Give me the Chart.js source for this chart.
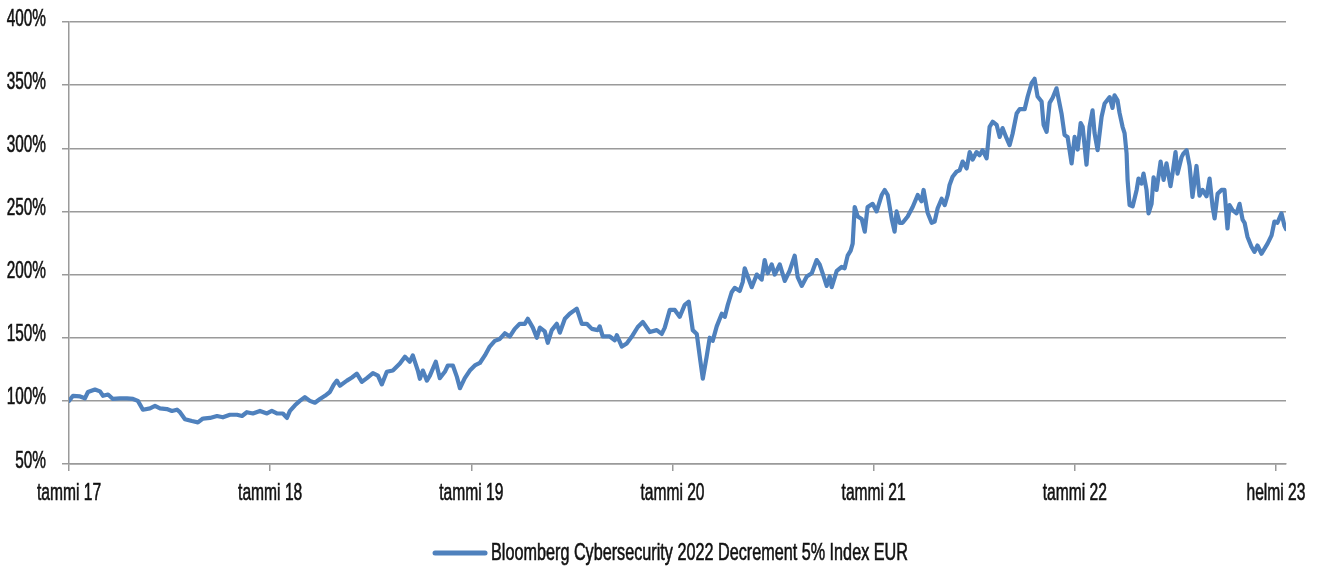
<!DOCTYPE html>
<html>
<head>
<meta charset="utf-8">
<script src="https://cdn.jsdelivr.net/npm/chart.js@4/dist/chart.umd.min.js"></script>
<style>
  html, body { margin: 0; padding: 0; background: #fff; }
  #wrap { width: 1322px; height: 570px; position: relative; }
</style>
</head>
<body>
<div id="wrap"><canvas id="chart"></canvas></div>
<script>
// months since January 2017
const months = [
  0, 0.24, 0.66, 0.95, 1.13, 1.55, 1.85, 2.03, 2.33, 2.62, 3.04, 3.46, 3.82, 4.11, 4.41, 4.83,
  5.13, 5.43, 5.84, 6.14, 6.44, 6.62, 6.92, 7.33, 7.69, 7.99, 8.41, 8.83, 9.18, 9.60, 10.02, 10.32,
  10.61, 10.97, 11.39, 11.81, 12.10, 12.40, 12.76, 13.00, 13.18, 13.48, 13.77, 14.07, 14.37, 14.67, 14.97, 15.27,
  15.56, 15.80, 15.98, 16.16, 16.58, 16.88, 17.17, 17.47, 17.77, 18.13, 18.43, 18.66, 18.96, 19.32, 19.74, 20.04,
  20.33, 20.51, 20.81, 20.93, 21.11, 21.35, 21.53, 21.88, 22.12, 22.42, 22.60, 22.90, 23.14, 23.32, 23.61, 23.91,
  24.21, 24.51, 24.81, 25.10, 25.40, 25.70, 26.00, 26.30, 26.59, 26.89, 27.19, 27.37, 27.67, 27.91, 28.09, 28.38,
  28.56, 28.80, 29.10, 29.28, 29.58, 29.87, 30.29, 30.59, 30.89, 31.19, 31.54, 31.66, 31.84, 32.26, 32.56, 32.68,
  32.98, 33.27, 33.63, 33.93, 34.23, 34.65, 35.06, 35.36, 35.54, 35.84, 36.14, 36.43, 36.73, 36.97, 37.21, 37.45,
  37.63, 37.81, 38.04, 38.22, 38.40, 38.64, 38.94, 39.12, 39.30, 39.53, 39.71, 40.01, 40.19, 40.31, 40.49, 40.73,
  41.03, 41.32, 41.50, 41.68, 41.92, 42.10, 42.40, 42.70, 42.99, 43.29, 43.47, 43.71, 44.01, 44.31, 44.60, 44.78,
  44.96, 45.20, 45.38, 45.50, 45.80, 46.09, 46.27, 46.45, 46.63, 46.75, 46.87, 47.05, 47.29, 47.47, 47.64, 47.94,
  48.18, 48.48, 48.66, 48.84, 49.08, 49.25, 49.37, 49.55, 49.73, 50.03, 50.33, 50.63, 50.86, 50.98, 51.22, 51.46,
  51.64, 51.82, 52.06, 52.24, 52.42, 52.53, 52.71, 52.95, 53.13, 53.31, 53.55, 53.73, 53.91, 54.14, 54.32, 54.50,
  54.74, 54.92, 55.10, 55.34, 55.52, 55.69, 55.93, 56.11, 56.29, 56.53, 56.71, 57.01, 57.19, 57.42, 57.60, 57.78,
  58.02, 58.14, 58.32, 58.50, 58.68, 58.91, 59.21, 59.39, 59.57, 59.81, 59.99, 60.17, 60.35, 60.47, 60.70, 60.88,
  61.06, 61.18, 61.36, 61.60, 61.78, 62.08, 62.25, 62.37, 62.55, 62.67, 62.85, 62.97, 63.09, 63.15, 63.27, 63.45,
  63.69, 63.80, 63.98, 64.10, 64.28, 64.40, 64.58, 64.70, 64.88, 65.12, 65.30, 65.47, 65.71, 65.83, 66.01, 66.13,
  66.37, 66.49, 66.67, 66.85, 67.02, 67.26, 67.44, 67.62, 67.86, 68.04, 68.22, 68.34, 68.52, 68.75, 68.93, 69.11,
  69.23, 69.41, 69.65, 69.83, 70.01, 70.13, 70.30, 70.54, 70.72, 70.90, 71.14, 71.32, 71.50, 71.74, 71.91, 72.09,
  72.33, 72.51, 72.60
];

// index level, % of start
const values = [
  100, 104, 103.5, 102, 107, 109, 107.5, 104, 105, 101.5, 102, 102, 101.5, 100, 93, 94,
  96, 94, 93.5, 92, 93, 91, 85.5, 84, 83, 86, 86.5, 88, 87, 89, 89, 88,
  91, 90, 92, 90, 92, 90, 90, 86.5, 92, 96.5, 100, 103, 100, 98.5, 101.5, 104,
  107, 113, 116, 112, 116, 118.5, 121.5, 115, 118, 122, 120, 113, 123, 124, 129.5, 135,
  131, 136, 124, 117.5, 124, 116, 120, 131, 118, 123, 128, 128, 119, 110, 118, 124,
  128, 130, 136, 143, 147.5, 149, 153.5, 151, 157, 161, 161, 165, 158, 150, 158, 155,
  146, 156, 161, 154, 165, 169, 173, 161, 161, 157, 156, 159, 151, 151, 148, 152,
  143, 145.5, 152, 158.5, 162.5, 154.5, 156, 153, 158, 172, 172, 166.5, 176, 178.5, 156, 153,
  135, 117.5, 135, 150, 147.5, 159, 169, 166.5, 176, 186, 189.5, 187, 194, 205, 198.5, 190,
  200, 196, 211.5, 201, 208, 200, 208, 195, 203, 215, 198, 191, 198.5, 201, 211.5, 208,
  201, 191, 198.5, 190, 203, 206, 205, 215, 219, 224.5, 253.5, 246, 244, 234, 253.5, 256,
  250, 263, 267, 263, 244, 234, 250, 241, 241, 246, 253.5, 263, 258, 267, 249, 241,
  242, 252.5, 260, 255, 263, 271, 277.5, 281.5, 282.5, 289.5, 284, 297, 291, 297, 294.5, 298.5,
  292, 317, 321, 318.5, 309, 316, 308, 302.5, 311.5, 327.5, 331, 331, 341, 351.5, 355, 341,
  337, 318.5, 313, 336, 340, 347.5, 327.5, 310.5, 309, 288, 309, 299, 320, 317, 287, 317,
  330, 312, 298.5, 325, 335.5, 340.5, 332, 342, 338, 328, 317, 312, 296, 275, 255, 254,
  267, 276, 272, 280, 267, 248.5, 256, 277, 267, 289.5, 275, 288, 270, 280, 297, 280,
  293, 296, 298.5, 286, 261.5, 286, 262.5, 267, 262, 276, 254, 244.5, 264, 267, 267, 236.5,
  255, 251, 248.5, 256, 243.5, 241, 230, 222, 218, 223, 216.5, 220.5, 224.5, 231, 242, 241,
  248.5, 238.5, 236
];

const tickMonths = [0, 12, 24, 36, 48, 60, 72];
const tickLabels = ["tammi 17", "tammi 18", "tammi 19", "tammi 20", "tammi 21", "tammi 22", "helmi 23"];
const seriesName = "Bloomberg Cybersecurity 2022 Decrement 5% Index EUR";

const FONT = "24px 'Liberation Sans', Arial, sans-serif";
const INK = "#111";
const GRID = "#9a9a9a";
const BLUE = "#4f81bd";

// the original uses a condensed face, so squeeze the text sideways
function narrowText(ctx, text, x, y, align, squeeze) {
  ctx.save();
  ctx.translate(x, y);
  ctx.scale(squeeze, 1);
  ctx.font = FONT;
  ctx.fillStyle = INK;
  ctx.strokeStyle = INK;
  ctx.lineWidth = 0.6;
  ctx.textAlign = align;
  ctx.textBaseline = "middle";
  ctx.fillText(text, 0, 0);
  ctx.strokeText(text, 0, 0);
  ctx.restore();
}

// tick labels and legend
const condensedText = {
  id: "condensedText",
  afterDraw(chart) {
    const ctx = chart.ctx;
    const area = chart.chartArea;
    const xs = chart.scales.x;
    const ys = chart.scales.y;

    ys.ticks.forEach(t => {
      narrowText(ctx, t.value + "%", area.left - 23, ys.getPixelForValue(t.value) - 3, "right", 0.64);
    });
    xs.ticks.forEach(t => {
      const i = tickMonths.indexOf(t.value);
      if (i >= 0) narrowText(ctx, tickLabels[i], xs.getPixelForValue(t.value), area.bottom + 29, "center", 0.65);
    });

    // legend: line sample + name
    const squeeze = 0.675;
    ctx.save();
    ctx.font = FONT;
    const textW = ctx.measureText(seriesName).width * squeeze;
    ctx.restore();
    const sample = 54, gap = 4;
    const total = sample + gap + textW;
    const left = (area.left + area.right) / 2 - total / 2 - 7;
    const ly = chart.height - 17;
    ctx.save();
    ctx.strokeStyle = BLUE;
    ctx.lineWidth = 5;
    ctx.lineCap = "round";
    ctx.beginPath();
    ctx.moveTo(left + 2, ly);
    ctx.lineTo(left + sample - 2, ly);
    ctx.stroke();
    ctx.restore();
    narrowText(ctx, seriesName, left + sample + gap, ly, "left", squeeze);
  }
};

const points = months.map((m, i) => ({ x: m, y: values[i] }));

new Chart(document.getElementById("chart"), {
  type: "line",
  data: {
    datasets: [{
      label: seriesName,
      data: points,
      borderColor: BLUE,
      backgroundColor: BLUE,
      borderWidth: 4.2,
      pointRadius: 0,
      tension: 0,
      borderJoinStyle: "round",
      borderCapStyle: "round"
    }]
  },
  plugins: [condensedText],
  options: {
    responsive: true,
    maintainAspectRatio: false,
    animation: false,
    layout: { padding: { left: 0, right: 36, top: 22, bottom: 0 } },
    plugins: {
      tooltip: { enabled: false },
      legend: { display: false }
    },
    scales: {
      x: {
        type: "linear",
        min: 0,
        max: 72.6,
        afterBuildTicks: (s) => { s.ticks = tickMonths.map(v => ({ value: v })); },
        afterFit: (s) => { s.height = 106; },
        ticks: { display: false },
        grid: { drawOnChartArea: false, drawTicks: true, tickLength: 7, color: GRID, lineWidth: 1.5 },
        border: { color: GRID, width: 1.5 }
      },
      y: {
        min: 50,
        max: 400,
        afterFit: (s) => { s.width = 69; },
        ticks: { stepSize: 50, display: false },
        grid: { color: GRID, lineWidth: 1.5, tickLength: 7 },
        border: { color: GRID, width: 1.5 }
      }
    }
  }
});
</script>
</body>
</html>
